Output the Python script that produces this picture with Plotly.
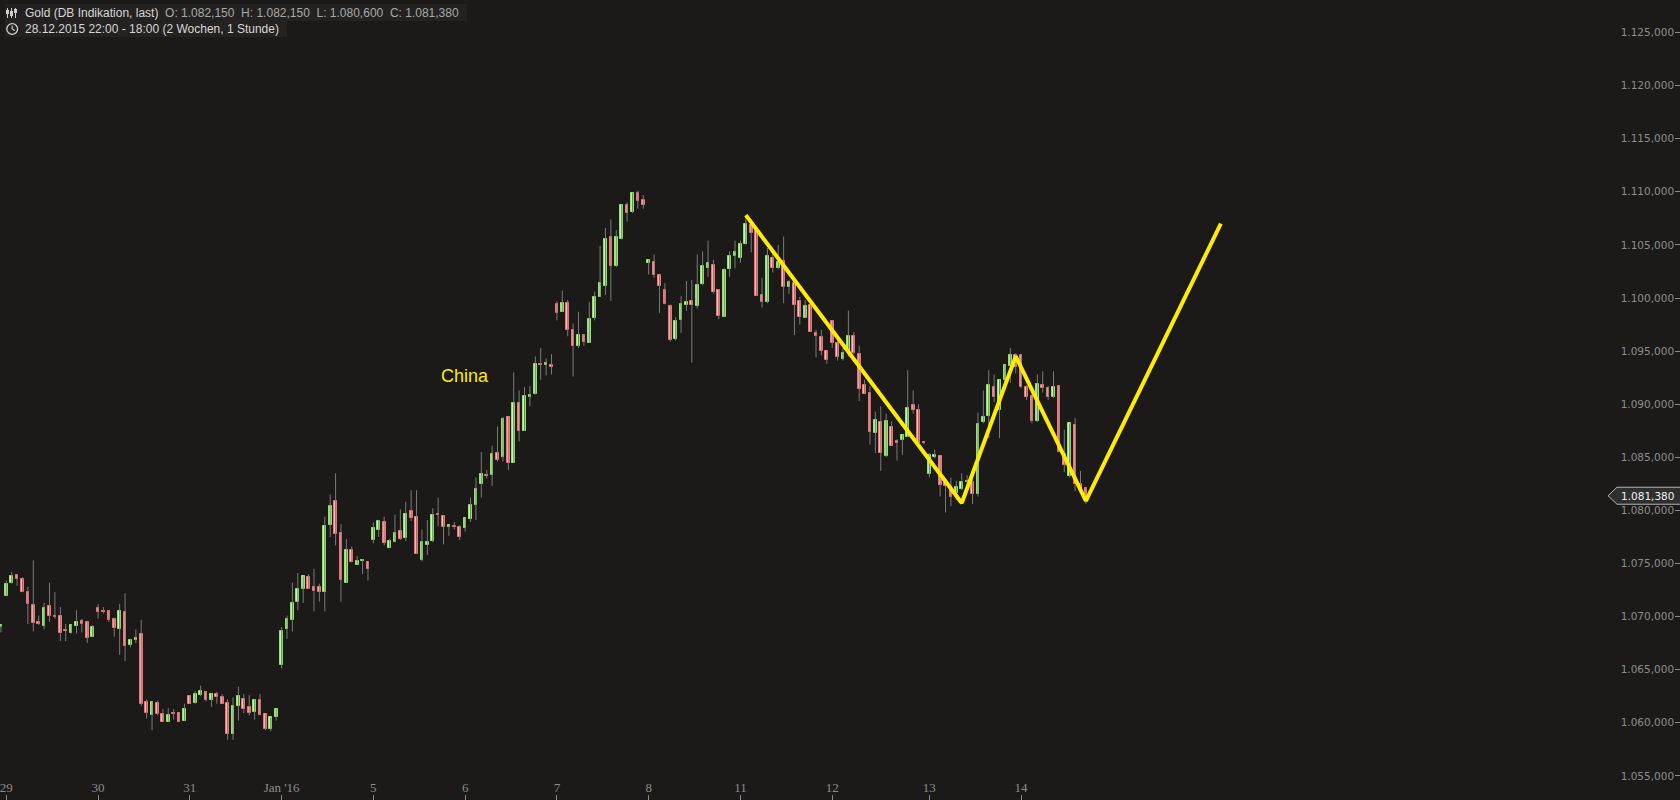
import plotly.graph_objects as go

W, H = 1680, 800

# ---------------- data (hourly candles, Gold DB Indikation) ----------------
day_labels = ['29', '30', '31', "Jan '16", '5', '6', '7', '8', '11', '12', '13', '14']
day_start = [1, 18, 35, 52, 69, 86, 103, 120, 137, 154, 172, 189]

open_ = [1.0690, 1.0719, 1.0732, 1.0739, 1.0735, 1.0723, 1.0711, 1.0695, 1.0691, 1.0710,
         1.0701, 1.0701, 1.0687, 1.0685, 1.0691, 1.0696, 1.0695, 1.0681, 1.0708, 1.0705,
         1.0705, 1.0698, 1.0688, 1.0704, 1.0673, 1.0678, 1.0684, 1.0620, 1.0607, 1.0619,
         1.0608, 1.0601, 1.0609, 1.0609, 1.0602, 1.0625, 1.0619, 1.0626, 1.0629, 1.0621,
         1.0627, 1.0624, 1.0619, 1.0589, 1.0616, 1.0622, 1.0615, 1.0610, 1.0621, 1.0608,
         1.0594, 1.0605, 1.0654, 1.0688, 1.0697, 1.0714, 1.0726, 1.0737, 1.0728, 1.0728,
         1.0723, 1.0786, 1.0809, 1.0779, 1.0732, 1.0763, 1.0749, 1.0752, 1.0751, 1.0772,
         1.0782, 1.0789, 1.0765, 1.0770, 1.0781, 1.0774, 1.0799, 1.0794, 1.0753, 1.0767,
         1.0771, 1.0797, 1.0795, 1.0784, 1.0785, 1.0784, 1.0783, 1.0792, 1.0805, 1.0825,
         1.0833, 1.0833, 1.0854, 1.0850, 1.0888, 1.0845, 1.0901, 1.0875, 1.0907, 1.0910,
         1.0938, 1.0937, 1.0937, 1.0994, 1.0987, 1.0995, 1.0970, 1.0955, 1.0965, 1.0958,
         1.0981, 1.1001, 1.1011, 1.1057, 1.1030, 1.1056, 1.1088, 1.1081, 1.1099, 1.1092,
         1.1033, 1.1034, 1.1022, 1.1008, 1.0992, 1.0961, 1.0979, 1.0993, 1.0997, 1.0992,
         1.1013, 1.1028, 1.1031, 1.1008, 1.0982, 1.1027, 1.1040, 1.1038, 1.1051, 1.1069,
         1.1063, 1.1003, 1.0996, 1.1038, 1.1028, 1.1035, 1.1010, 1.1014, 1.0997, 1.0981,
         1.0993, 1.0967, 1.0963, 1.0950, 1.0978, 1.0958, 1.0943, 1.0949, 1.0964, 1.0947,
         1.0918, 1.0911, 1.0873, 1.0883, 1.0851, 1.0879, 1.0865, 1.0866, 1.0869, 1.0899,
         1.0895, 1.0864, 1.0834, 1.0850, 1.0851, 1.0827, 1.0822, 1.0816, 1.0820, 1.0827,
         1.0827, 1.0815, 1.0883, 1.0889, 1.0916, 1.0895, 1.0923, 1.0936, 1.0946, 1.0946,
         1.0916, 1.0908, 1.0884, 1.0918, 1.0915, 1.0907, 1.0917, 1.0853, 1.0832, 1.0880,
         1.0825, 1.08215]
high = [1.0692, 1.0734, 1.0742, 1.0740, 1.0737, 1.0728, 1.0753, 1.0701, 1.0713, 1.0732,
        1.0723, 1.0709, 1.0693, 1.0692, 1.0706, 1.0698, 1.0696, 1.0692, 1.0712, 1.0709,
        1.0706, 1.0699, 1.0712, 1.0722, 1.0679, 1.0688, 1.0697, 1.0622, 1.0620, 1.0621,
        1.0613, 1.0614, 1.0613, 1.0609, 1.0618, 1.0626, 1.0630, 1.0635, 1.0629, 1.0627,
        1.0629, 1.0627, 1.0622, 1.0624, 1.0634, 1.0627, 1.0626, 1.0622, 1.0627, 1.0608,
        1.0605, 1.0613, 1.0690, 1.0701, 1.0732, 1.0741, 1.0738, 1.0740, 1.0745, 1.0731,
        1.0794, 1.0815, 1.0835, 1.0787, 1.0773, 1.0766, 1.0757, 1.0754, 1.0751, 1.0789,
        1.0791, 1.0794, 1.0773, 1.0796, 1.0801, 1.0808, 1.0819, 1.0819, 1.0782, 1.0791,
        1.0802, 1.0812, 1.0795, 1.0786, 1.0789, 1.0786, 1.0793, 1.0812, 1.0831, 1.0855,
        1.0838, 1.0861, 1.0879, 1.0888, 1.0888, 1.0930, 1.0913, 1.0916, 1.0917, 1.0945,
        1.0953, 1.0943, 1.0947, 1.0997, 1.1007, 1.0998, 1.0976, 1.0987, 1.0966, 1.0996,
        1.1006, 1.1049, 1.1066, 1.1074, 1.1064, 1.1088, 1.1090, 1.1099, 1.1101, 1.1097,
        1.1036, 1.1041, 1.1022, 1.1014, 1.0994, 1.0982, 1.1002, 1.1016, 1.1017, 1.1041,
        1.1044, 1.1054, 1.1036, 1.1008, 1.1028, 1.1044, 1.1054, 1.1054, 1.1075, 1.1074,
        1.1063, 1.1019, 1.1047, 1.1044, 1.1050, 1.1058, 1.1017, 1.1017, 1.1001, 1.0998,
        1.0998, 1.0970, 1.0970, 1.0950, 1.0979, 1.0960, 1.0953, 1.0988, 1.0968, 1.0955,
        1.0923, 1.0917, 1.0893, 1.0898, 1.0891, 1.0884, 1.0867, 1.0871, 1.0932, 1.0913,
        1.0900, 1.0864, 1.0854, 1.0857, 1.0851, 1.0829, 1.0831, 1.0828, 1.0835, 1.0833,
        1.0834, 1.0892, 1.0913, 1.0932, 1.0928, 1.0923, 1.0937, 1.0953, 1.0948, 1.0947,
        1.0918, 1.0910, 1.0928, 1.0931, 1.0917, 1.0931, 1.0917, 1.0876, 1.0882, 1.0887,
        1.0837, 1.08215]
low = [1.0685, 1.0719, 1.0731, 1.0729, 1.0723, 1.0693, 1.0686, 1.0692, 1.0688, 1.0695,
       1.0698, 1.0677, 1.0677, 1.0684, 1.0684, 1.0685, 1.0675, 1.0681, 1.0698, 1.0703,
       1.0695, 1.0681, 1.0664, 1.0658, 1.0671, 1.0675, 1.0616, 1.0604, 1.0593, 1.0607,
       1.0601, 1.0601, 1.0603, 1.0601, 1.0602, 1.0618, 1.0618, 1.0625, 1.0620, 1.0615,
       1.0618, 1.0618, 1.0584, 1.0584, 1.0602, 1.0609, 1.0607, 1.0603, 1.0607, 1.0593,
       1.0592, 1.0602, 1.0651, 1.0679, 1.0686, 1.0706, 1.0713, 1.0726, 1.0705, 1.0714,
       1.0705, 1.0775, 1.0767, 1.0714, 1.0732, 1.0751, 1.0749, 1.0740, 1.0734, 1.0769,
       1.0775, 1.0767, 1.0765, 1.0770, 1.0772, 1.0771, 1.0790, 1.0759, 1.0752, 1.0758,
       1.0770, 1.0785, 1.0768, 1.0776, 1.0782, 1.0772, 1.0780, 1.0789, 1.0791, 1.0812,
       1.0830, 1.0823, 1.0846, 1.0846, 1.0838, 1.0845, 1.0865, 1.0875, 1.0898, 1.0909,
       1.0923, 1.0927, 1.0928, 1.0979, 1.0987, 1.0964, 1.0926, 1.0953, 1.0955, 1.0958,
       1.0979, 1.1001, 1.1003, 1.0997, 1.1029, 1.1055, 1.1072, 1.1080, 1.1084, 1.1084,
       1.1022, 1.1019, 1.0986, 1.0994, 1.0959, 1.0960, 1.0967, 1.0988, 1.0939, 1.0990,
       1.1012, 1.1020, 1.1004, 1.0980, 1.0982, 1.1020, 1.1028, 1.1033, 1.1050, 1.1043,
       1.1002, 1.0991, 1.0995, 1.1024, 1.1027, 1.0995, 1.1004, 1.0965, 1.0975, 1.0981,
       1.0968, 1.0944, 1.0946, 1.0938, 1.0953, 1.0941, 1.0941, 1.0945, 1.0947, 1.0903,
       1.0910, 1.0862, 1.0854, 1.0837, 1.0850, 1.0861, 1.0847, 1.0852, 1.0869, 1.0891,
       1.0863, 1.0862, 1.0831, 1.0849, 1.0813, 1.0798, 1.0804, 1.0810, 1.0819, 1.0819,
       1.0806, 1.0813, 1.0882, 1.0868, 1.0902, 1.0868, 1.0920, 1.0920, 1.0929, 1.0915,
       1.0904, 1.0882, 1.0883, 1.0911, 1.0904, 1.0906, 1.0855, 1.0836, 1.0831, 1.0818,
       1.0818, 1.0806]
close = [1.0692, 1.0731, 1.0738, 1.0735, 1.0723, 1.0712, 1.0694, 1.0693, 1.0708, 1.0701,
         1.0700, 1.0685, 1.0686, 1.0692, 1.0695, 1.0693, 1.0680, 1.0690, 1.0704, 1.0704,
         1.0697, 1.0689, 1.0705, 1.0672, 1.0678, 1.0680, 1.0618, 1.0609, 1.0620, 1.0608,
         1.0601, 1.0607, 1.0608, 1.0601, 1.0613, 1.0618, 1.0627, 1.0630, 1.0621, 1.0627,
         1.0624, 1.0618, 1.0589, 1.0616, 1.0625, 1.0613, 1.0609, 1.0621, 1.0607, 1.0594,
         1.0605, 1.0613, 1.0686, 1.0698, 1.0713, 1.0726, 1.0738, 1.0726, 1.0724, 1.0723,
         1.0785, 1.0804, 1.0778, 1.0734, 1.0763, 1.0751, 1.0752, 1.0753, 1.0745, 1.0783,
         1.0790, 1.0769, 1.0771, 1.0779, 1.0773, 1.0797, 1.0793, 1.0759, 1.0770, 1.0770,
         1.0796, 1.0796, 1.0784, 1.0786, 1.0784, 1.0775, 1.0793, 1.0805, 1.0820, 1.0834,
         1.0832, 1.0853, 1.0847, 1.0886, 1.0845, 1.0901, 1.0875, 1.0908, 1.0909, 1.0938,
         1.0937, 1.0939, 1.0935, 1.0986, 1.0995, 1.0970, 1.0955, 1.0965, 1.0959, 1.0980,
         1.1001, 1.1014, 1.1056, 1.1030, 1.1057, 1.1088, 1.1080, 1.1099, 1.1091, 1.1088,
         1.1036, 1.1022, 1.1011, 1.0994, 1.0960, 1.0978, 1.0994, 1.0996, 1.0993, 1.1012,
         1.1030, 1.1033, 1.1006, 1.0983, 1.1026, 1.1040, 1.1043, 1.1051, 1.1070, 1.1061,
         1.1002, 1.0996, 1.1040, 1.1028, 1.1034, 1.1010, 1.1015, 1.0993, 1.0982, 1.0992,
         1.0968, 1.0964, 1.0950, 1.0942, 1.0958, 1.0944, 1.0948, 1.0964, 1.0948, 1.0914,
         1.0910, 1.0874, 1.0885, 1.0854, 1.0884, 1.0861, 1.0863, 1.0871, 1.0896, 1.0895,
         1.0863, 1.0863, 1.0852, 1.0852, 1.0824, 1.0823, 1.0813, 1.0822, 1.0827, 1.0828,
         1.0815, 1.0881, 1.0888, 1.0918, 1.0907, 1.0923, 1.0937, 1.0946, 1.0935, 1.0916,
         1.0907, 1.0884, 1.0919, 1.0915, 1.0907, 1.0916, 1.0855, 1.0843, 1.0882, 1.0825,
         1.0819, 1.08138]

# hand-drawn pattern line (candle index, price)
pattern_x = [138, 178, 188, 201, 226]
pattern_y = [1.1078, 1.0807, 1.0945, 1.0809, 1.1070]

china_x, china_y = 86, 1.0927

y_ticks = [1.055, 1.060, 1.065, 1.070, 1.075, 1.080, 1.085, 1.090,
           1.095, 1.100, 1.105, 1.110, 1.115, 1.120, 1.125]

# ---------------- styles ----------------
BG = '#1c1a19'
INC_LINE, INC_FILL = '#86ec5a', '#c4f6ac'
DEC_LINE, DEC_FILL = '#ff6f6f', '#ffb8b8'
WICK = '#7a7a7a'
YELLOW = '#ffec00'


def fmt(v):
    s = f"{v:.6f}"
    a, b = s.split('.')
    return f"{a}.{b[:3]},{b[3:]}"


n = len(close)
idx = list(range(n))

wx, wy = [], []
for i in idx:
    wx += [i, i, None]
    wy += [low[i], high[i], None]

MIN_BODY = 0.00007
inc = [i for i in idx if close[i] >= open_[i]]
dec = [i for i in idx if close[i] < open_[i]]

fig = go.Figure()
fig.add_trace(go.Scatter(x=wx, y=wy, mode='lines', line=dict(color=WICK, width=1),
                         hoverinfo='skip', showlegend=False))
fig.add_trace(go.Bar(x=inc, base=[open_[i] for i in inc],
                     y=[max(close[i] - open_[i], MIN_BODY) for i in inc],
                     width=0.5, marker=dict(color=INC_FILL, line=dict(color=INC_LINE, width=1)),
                     showlegend=False))
fig.add_trace(go.Bar(x=dec, base=[close[i] for i in dec],
                     y=[max(open_[i] - close[i], MIN_BODY) for i in dec],
                     width=0.5, marker=dict(color=DEC_FILL, line=dict(color=DEC_LINE, width=1)),
                     showlegend=False))
fig.add_trace(go.Scatter(x=pattern_x, y=pattern_y, mode='lines',
                         line=dict(color=YELLOW, width=4), showlegend=False, hoverinfo='skip'))


def px(x):
    return x / W


def py(y):
    return 1 - y / H


shapes = []
# header backgrounds
shapes.append(dict(type='rect', xref='paper', yref='paper', x0=px(5), x1=px(467), y0=py(21), y1=py(4),
                   fillcolor='#242220', line=dict(width=0), layer='above'))
shapes.append(dict(type='rect', xref='paper', yref='paper', x0=px(5), x1=px(287), y0=py(37), y1=py(21),
                   fillcolor='#242220', line=dict(width=0), layer='above'))
# small candle icon
for cx, t, b, bt, bb in [(7.5, 8, 18, 10, 14), (11.5, 8, 18, 11, 16), (15.5, 8, 18, 9, 13)]:
    shapes.append(dict(type='line', xref='paper', yref='paper', x0=px(cx), x1=px(cx), y0=py(t), y1=py(b),
                       line=dict(color='#cfcfcf', width=1), layer='above'))
    shapes.append(dict(type='rect', xref='paper', yref='paper', x0=px(cx - 1.5), x1=px(cx + 1.5),
                       y0=py(bb), y1=py(bt), fillcolor='#cfcfcf', line=dict(width=0), layer='above'))
# clock icon
shapes.append(dict(type='circle', xref='paper', yref='paper', x0=px(6.8), x1=px(17.6), y0=py(34.4), y1=py(23.6),
                   line=dict(color='#cfcfcf', width=1.3), layer='above'))
shapes.append(dict(type='path', xref='paper', yref='paper',
                   path=f"M {px(12.2)},{py(25.8)} L {px(12.2)},{py(29)} L {px(14.8)},{py(30.6)}",
                   line=dict(color='#cfcfcf', width=1.2), layer='above'))
# last price tag
shapes.append(dict(type='path', xref='paper', yref='y', xsizemode='pixel', ysizemode='pixel',
                   xanchor=1, yanchor=close[-1],
                   path='M -72,0 L -63,8.5 L 2,8.5 L 2,-8.5 L -63,-8.5 Z',
                   fillcolor='#2f2f2f', line=dict(color='#b5b5b5', width=1), layer='above'))

annotations = [
    dict(xref='paper', yref='paper', x=px(23), y=py(12.5), xanchor='left', yanchor='middle',
         showarrow=False, align='left',
         text=('<span style="color:#d6d6d6">Gold (DB Indikation, last)</span>\u00a0\u00a0'
               f'O: {fmt(open_[-1])}\u00a0\u00a0H: {fmt(high[-1])}\u00a0\u00a0'
               f'L: {fmt(low[-1])}\u00a0\u00a0C: {fmt(close[-1])}'),
         font=dict(family='Liberation Sans', size=12, color='#a8a8a8')),
    dict(xref='paper', yref='paper', x=px(23), y=py(29), xanchor='left', yanchor='middle',
         showarrow=False, align='left',
         text='28.12.2015 22:00 - 18:00 (2 Wochen, 1 Stunde)',
         font=dict(family='Liberation Sans', size=12, color='#d6d6d6')),
    dict(x=china_x, y=china_y, xref='x', yref='y', text='China', showarrow=False,
         font=dict(family='Liberation Sans', size=18, color=YELLOW)),
    dict(xref='paper', yref='y', x=px(1647.5), y=close[-1], text=fmt(close[-1]), showarrow=False,
         xanchor='center', yanchor='middle',
         font=dict(family='DejaVu Sans', size=10.5, color='#f2f2f2')),
]

fig.update_layout(
    width=W, height=H, autosize=False,
    margin=dict(l=0, r=0, t=0, b=0, pad=0),
    paper_bgcolor=BG, plot_bgcolor=BG,
    barmode='overlay', bargap=0,
    showlegend=False,
    shapes=shapes, annotations=annotations,
    xaxis=dict(range=[-0.167, 311.06], tickmode='array', tickvals=day_start, ticktext=day_labels,
               ticks='inside', ticklen=5, tickcolor='#8a8a8a', ticklabelposition='inside',
               ticklabeloverflow='allow',
               tickfont=dict(family='Liberation Sans Narrow', size=13, color='#8c8c8c'),
               showgrid=False, zeroline=False, showline=False, fixedrange=True),
    yaxis=dict(range=[1.05273, 1.12806], side='right', tickmode='array', tickvals=y_ticks,
               ticktext=[fmt(v) for v in y_ticks],
               ticks='inside', ticklen=5, tickcolor='#8a8a8a', ticklabelposition='inside',
               ticklabeloverflow='allow',
               tickfont=dict(family='DejaVu Sans', size=10.5, color='#8c8c8c'),
               showgrid=False, zeroline=False, showline=False, fixedrange=True),
)

fig.write_html('out.html', include_plotlyjs=True, config={'displayModeBar': False},
               post_script="document.body.style.margin='0';document.body.style.overflow='hidden';")
